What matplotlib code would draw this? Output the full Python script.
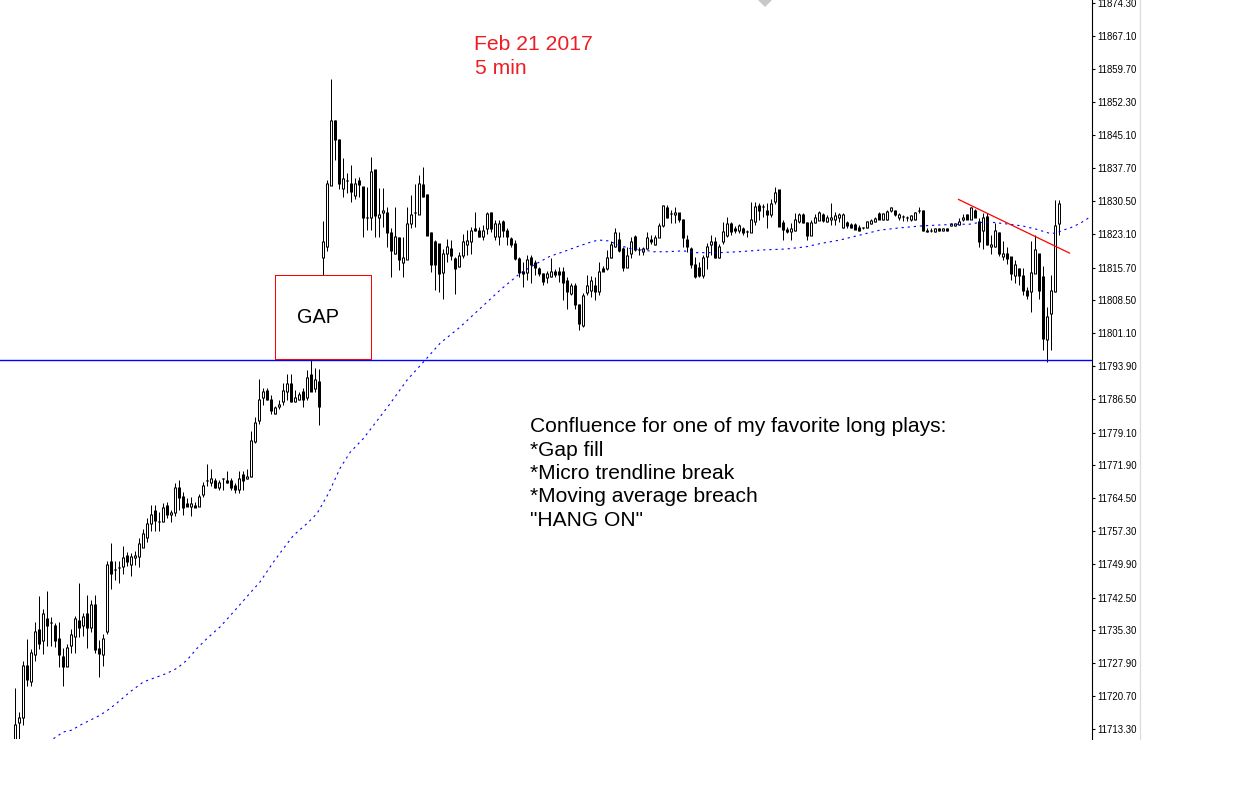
import matplotlib
matplotlib.use("Agg")
import matplotlib.pyplot as plt
from matplotlib.patches import Rectangle
from matplotlib.lines import Line2D
import numpy as np

# ---------------------------------------------------------------
# 5-minute OHLC bars, Feb 21 2017 (index 0 = first visible bar)
# ---------------------------------------------------------------
opens = [
    11709.8, 11714.9, 11715.9, 11727.4, 11723.9, 11729.9, 11735.4, 11733.0, 11737.9, 11737.0,
    11736.4, 11733.4, 11729.5, 11727.3, 11731.8, 11733.8, 11737.4, 11736.2, 11739.0, 11735.8,
    11741.0, 11731.1, 11729.9, 11734.9, 11750.5, 11748.7, 11749.1, 11749.3, 11751.8, 11749.9,
    11751.4, 11751.7, 11753.7, 11755.8, 11758.9, 11761.9, 11759.4, 11759.3, 11763.0, 11760.9,
    11761.4, 11766.9, 11765.0, 11763.4, 11762.8, 11763.0, 11762.8, 11765.4, 11768.5, 11768.0,
    11768.5, 11766.8, 11768.8, 11768.5, 11768.5, 11767.4, 11766.4, 11769.9, 11768.9, 11769.3,
    11777.2, 11781.8, 11786.8, 11788.5, 11786.4, 11783.3, 11784.8, 11785.9, 11788.3, 11790.0,
    11785.9, 11786.4, 11788.1, 11786.9, 11792.0, 11788.9, 11790.5, 11817.9, 11820.3, 11833.9,
    11848.2, 11844.0, 11833.2, 11835.1, 11834.3, 11831.7, 11835.1, 11833.6, 11826.9, 11826.9,
    11837.4, 11826.9, 11827.8, 11828.0, 11823.5, 11818.7, 11822.4, 11816.8, 11817.5, 11825.5,
    11828.0, 11827.5, 11834.2, 11832.0, 11823.5, 11821.4, 11821.0, 11814.7, 11818.8, 11819.9,
    11817.7, 11816.0, 11818.4, 11820.7, 11821.4, 11824.4, 11823.8, 11822.5, 11824.4, 11828.0,
    11822.5, 11822.5, 11826.0, 11824.0, 11822.1, 11821.0, 11817.7, 11814.9, 11814.7, 11817.9,
    11816.8, 11815.5, 11814.4, 11813.5, 11813.8, 11814.9, 11814.9, 11814.9, 11812.9, 11809.9,
    11811.6, 11807.6, 11802.8, 11810.1, 11810.7, 11811.6, 11810.3, 11815.5, 11815.5, 11817.9,
    11820.3, 11821.9, 11819.9, 11815.8, 11818.8, 11822.5, 11819.6, 11819.2, 11819.9, 11821.9,
    11820.7, 11822.4, 11825.1, 11829.0, 11827.7, 11827.5, 11827.9, 11826.4, 11821.9, 11819.9,
    11816.4, 11815.8, 11813.9, 11818.2, 11820.8, 11821.5, 11817.9, 11821.4, 11822.9, 11825.5,
    11824.4, 11823.8, 11824.4, 11823.6, 11823.5, 11825.8, 11829.5, 11829.3, 11828.4, 11827.5,
    11830.3, 11833.0, 11825.6, 11824.1, 11823.6, 11823.8, 11825.8, 11827.5, 11825.7, 11822.9,
    11825.7, 11826.2, 11827.5, 11826.0, 11826.4, 11826.4, 11826.9, 11824.5, 11825.7, 11825.3,
    11825.3, 11824.5, 11824.5, 11824.5, 11825.5, 11825.8, 11827.7, 11826.4, 11826.4, 11828.4,
    11828.4, 11826.9, 11827.1, 11826.9, 11826.4, 11826.4, 11828.4, 11828.4, 11824.0, 11824.0,
    11823.6, 11824.3, 11823.9, 11824.4, 11825.0, 11825.0, 11825.3, 11826.4, 11827.5, 11826.4,
    11828.4, 11826.0, 11823.8, 11827.1, 11820.3, 11820.3, 11823.5, 11818.2, 11818.8, 11818.1,
    11813.9, 11815.5, 11814.0, 11810.5, 11810.3, 11814.4, 11818.8, 11813.6, 11799.8, 11805.5,
    11810.3, 11825.5,
]
highs = [
    11722.5, 11717.1, 11728.4, 11733.4, 11731.0, 11737.0, 11742.9, 11740.0, 11743.9, 11738.2,
    11736.9, 11737.0, 11731.4, 11732.3, 11735.5, 11738.4, 11745.8, 11739.1, 11743.0, 11741.9,
    11743.0, 11733.0, 11734.4, 11750.5, 11754.6, 11750.5, 11750.5, 11753.9, 11752.6, 11752.4,
    11752.9, 11755.7, 11757.8, 11760.2, 11763.0, 11763.0, 11761.4, 11763.4, 11763.8, 11761.9,
    11767.9, 11768.5, 11765.9, 11764.6, 11764.9, 11763.7, 11765.4, 11768.2, 11772.1, 11771.0,
    11769.1, 11768.5, 11769.1, 11770.5, 11769.1, 11768.0, 11770.5, 11770.5, 11771.0, 11779.4,
    11782.6, 11790.9, 11788.9, 11788.9, 11787.5, 11784.9, 11786.4, 11790.0, 11792.0, 11792.0,
    11788.5, 11788.1, 11788.9, 11792.9, 11795.2, 11793.5, 11793.3, 11826.0, 11835.1, 11857.5,
    11848.4, 11844.3, 11839.9, 11836.6, 11838.4, 11835.5, 11835.8, 11833.6, 11833.6, 11840.2,
    11837.4, 11833.4, 11833.4, 11829.2, 11824.4, 11829.2, 11822.5, 11822.5, 11829.2, 11831.7,
    11834.3, 11836.2, 11837.9, 11832.0, 11823.5, 11821.8, 11821.0, 11819.9, 11822.1, 11821.8,
    11818.1, 11819.2, 11823.1, 11824.0, 11824.7, 11828.0, 11824.7, 11825.1, 11828.0, 11828.0,
    11826.2, 11826.2, 11826.2, 11824.4, 11822.5, 11821.8, 11818.1, 11817.0, 11818.4, 11818.4,
    11817.3, 11815.8, 11814.5, 11814.9, 11817.7, 11815.3, 11815.8, 11815.8, 11813.5, 11812.2,
    11812.2, 11807.6, 11810.1, 11814.0, 11813.8, 11813.6, 11817.0, 11816.1, 11819.6, 11821.6,
    11824.4, 11823.6, 11820.3, 11820.3, 11822.5, 11823.0, 11820.3, 11820.3, 11823.5, 11822.9,
    11822.9, 11825.6, 11829.5, 11829.5, 11828.4, 11829.2, 11827.9, 11826.4, 11822.9, 11820.3,
    11818.1, 11817.0, 11818.4, 11821.2, 11822.9, 11822.5, 11821.0, 11825.8, 11826.9, 11825.8,
    11825.0, 11825.3, 11824.7, 11824.1, 11830.3, 11830.3, 11830.0, 11829.8, 11829.9, 11831.0,
    11833.5, 11833.0, 11826.2, 11824.7, 11825.6, 11827.7, 11827.9, 11827.7, 11825.7, 11826.2,
    11827.5, 11828.2, 11827.7, 11827.3, 11829.9, 11828.0, 11827.7, 11827.7, 11826.0, 11825.5,
    11825.5, 11825.1, 11824.7, 11826.0, 11826.4, 11826.8, 11828.0, 11827.9, 11828.4, 11829.2,
    11828.4, 11827.7, 11827.3, 11827.2, 11827.3, 11828.0, 11829.2, 11828.4, 11824.4, 11824.4,
    11824.5, 11824.4, 11824.5, 11824.5, 11825.6, 11825.6, 11826.6, 11827.5, 11827.5, 11829.2,
    11828.6, 11826.6, 11827.9, 11827.9, 11822.9, 11825.5, 11823.6, 11821.5, 11820.3, 11818.1,
    11817.3, 11815.5, 11815.5, 11811.4, 11821.5, 11822.9, 11818.8, 11816.1, 11807.0, 11814.0,
    11830.6, 11830.6,
]
lows = [
    11708.2, 11711.1, 11714.3, 11722.9, 11722.9, 11728.5, 11731.1, 11729.9, 11731.8, 11731.8,
    11731.6, 11727.0, 11722.9, 11727.3, 11730.3, 11730.3, 11733.8, 11733.9, 11731.3, 11734.9,
    11730.3, 11724.9, 11727.3, 11734.4, 11744.4, 11746.4, 11745.8, 11747.8, 11749.5, 11747.3,
    11749.8, 11749.3, 11753.7, 11754.9, 11757.3, 11757.3, 11757.3, 11759.3, 11760.2, 11759.3,
    11760.6, 11761.9, 11760.8, 11762.8, 11760.5, 11762.5, 11762.8, 11764.8, 11767.3, 11767.3,
    11766.8, 11766.3, 11766.3, 11767.8, 11766.3, 11765.8, 11765.7, 11766.3, 11768.9, 11769.3,
    11776.7, 11781.1, 11785.3, 11786.4, 11783.3, 11783.3, 11784.4, 11785.3, 11786.3, 11785.9,
    11785.9, 11786.4, 11784.8, 11786.4, 11788.3, 11788.1, 11780.7, 11814.0, 11819.4, 11833.9,
    11839.5, 11833.2, 11831.4, 11832.3, 11830.3, 11831.0, 11831.4, 11822.5, 11824.0, 11824.0,
    11822.5, 11822.5, 11824.7, 11820.3, 11813.5, 11818.7, 11815.1, 11813.5, 11817.5, 11824.4,
    11824.7, 11827.5, 11831.4, 11822.9, 11814.7, 11810.7, 11810.3, 11808.8, 11817.0, 11817.3,
    11809.9, 11815.8, 11817.9, 11818.4, 11818.8, 11823.8, 11822.5, 11821.8, 11823.1, 11823.6,
    11821.8, 11820.7, 11822.5, 11820.7, 11820.3, 11817.3, 11813.6, 11811.4, 11812.9, 11812.3,
    11814.0, 11813.8, 11811.8, 11812.2, 11813.5, 11813.6, 11812.5, 11808.5, 11806.4, 11809.6,
    11806.4, 11801.8, 11802.5, 11809.6, 11809.2, 11808.5, 11809.6, 11814.9, 11815.1, 11817.9,
    11820.3, 11819.2, 11814.9, 11815.8, 11817.7, 11819.4, 11818.4, 11818.4, 11819.7, 11821.0,
    11820.7, 11822.4, 11824.7, 11826.6, 11825.5, 11825.5, 11825.8, 11820.3, 11819.2, 11815.5,
    11813.4, 11813.6, 11813.4, 11815.3, 11818.4, 11817.9, 11817.9, 11820.9, 11822.4, 11822.9,
    11823.3, 11823.3, 11822.9, 11822.4, 11823.5, 11825.1, 11826.2, 11826.9, 11824.4, 11826.9,
    11829.8, 11824.9, 11821.8, 11823.3, 11821.8, 11823.8, 11825.6, 11825.5, 11821.8, 11822.9,
    11825.5, 11826.2, 11825.8, 11825.8, 11825.1, 11825.1, 11825.8, 11824.4, 11824.5, 11824.5,
    11824.2, 11823.8, 11824.2, 11824.4, 11825.3, 11825.7, 11826.4, 11826.2, 11826.2, 11828.0,
    11827.2, 11826.2, 11826.0, 11826.0, 11826.0, 11826.2, 11827.9, 11823.8, 11823.5, 11823.6,
    11823.5, 11823.9, 11823.8, 11823.8, 11824.9, 11824.9, 11825.1, 11826.0, 11826.4, 11826.4,
    11826.9, 11820.3, 11819.8, 11820.7, 11818.8, 11820.3, 11818.2, 11817.3, 11816.4, 11812.9,
    11812.2, 11811.9, 11809.7, 11808.8, 11805.9, 11814.4, 11808.8, 11797.4, 11794.8, 11797.4,
    11810.3, 11822.9,
]
closes = [
    11714.4, 11715.9, 11727.4, 11724.4, 11730.3, 11735.0, 11732.3, 11739.0, 11736.2, 11737.0,
    11733.0, 11729.9, 11727.3, 11731.4, 11734.3, 11737.9, 11735.8, 11738.4, 11735.8, 11741.0,
    11731.0, 11730.2, 11733.4, 11749.9, 11747.8, 11748.7, 11749.1, 11751.4, 11750.5, 11751.7,
    11751.8, 11754.5, 11756.6, 11758.9, 11761.0, 11759.7, 11759.4, 11762.5, 11761.0, 11761.4,
    11766.9, 11764.8, 11762.5, 11762.8, 11763.4, 11762.5, 11764.9, 11767.4, 11768.5, 11768.9,
    11766.8, 11768.0, 11768.8, 11768.0, 11766.9, 11766.4, 11769.0, 11768.4, 11769.4, 11777.4,
    11781.3, 11786.4, 11788.1, 11786.4, 11783.9, 11784.6, 11785.4, 11788.4, 11790.0, 11785.9,
    11786.9, 11787.5, 11786.4, 11791.3, 11788.3, 11790.9, 11784.8, 11821.4, 11834.3, 11848.4,
    11844.0, 11834.3, 11835.5, 11835.1, 11832.6, 11834.3, 11834.0, 11826.9, 11826.9, 11837.1,
    11827.3, 11827.5, 11828.3, 11823.5, 11819.4, 11822.5, 11817.5, 11817.9, 11825.5, 11827.5,
    11828.0, 11834.3, 11831.4, 11822.9, 11816.4, 11816.4, 11814.4, 11818.8, 11820.3, 11818.4,
    11815.5, 11818.4, 11821.4, 11821.6, 11824.0, 11823.8, 11822.5, 11824.0, 11827.7, 11824.4,
    11825.5, 11825.5, 11824.0, 11822.5, 11820.9, 11817.7, 11814.7, 11814.4, 11817.5, 11816.4,
    11815.8, 11814.4, 11812.7, 11814.4, 11814.9, 11814.2, 11814.2, 11812.3, 11810.3, 11811.6,
    11807.6, 11803.3, 11809.5, 11811.6, 11812.9, 11810.3, 11814.9, 11814.9, 11817.9, 11820.9,
    11823.5, 11819.4, 11815.8, 11818.4, 11821.5, 11819.6, 11819.6, 11819.9, 11822.4, 11821.4,
    11822.4, 11825.1, 11829.5, 11826.9, 11827.7, 11827.9, 11826.4, 11822.4, 11820.3, 11816.4,
    11813.6, 11813.9, 11817.9, 11820.4, 11821.5, 11817.9, 11820.4, 11823.6, 11825.5, 11823.6,
    11823.8, 11825.0, 11823.5, 11823.6, 11826.4, 11829.2, 11828.3, 11829.3, 11827.5, 11829.9,
    11832.3, 11824.9, 11824.1, 11823.6, 11824.4, 11826.4, 11827.5, 11825.7, 11822.9, 11825.7,
    11826.9, 11828.0, 11826.2, 11826.9, 11826.9, 11827.3, 11827.5, 11827.5, 11825.1, 11824.6,
    11824.2, 11824.0, 11824.5, 11825.8, 11826.2, 11826.6, 11826.4, 11827.7, 11828.2, 11828.9,
    11827.5, 11827.5, 11827.1, 11826.9, 11827.2, 11827.9, 11828.4, 11824.0, 11823.6, 11824.0,
    11824.4, 11824.0, 11824.4, 11823.9, 11825.5, 11825.5, 11826.0, 11826.9, 11826.4, 11828.9,
    11826.9, 11821.4, 11826.9, 11820.7, 11820.8, 11823.8, 11818.7, 11818.8, 11817.8, 11814.4,
    11816.4, 11813.9, 11810.7, 11809.4, 11814.7, 11819.6, 11810.7, 11800.0, 11804.9, 11810.5,
    11825.1, 11829.9,
]

# Moving average (dotted blue), sampled along the bar index
ma_index = [
    9.75, 12.25, 14.35, 16.4, 18.9, 21.4, 23.9, 26.4, 28.9, 32.25, 34.75, 38.1, 40.6,
    43.1, 45.6, 48.1, 51.4, 54.75, 58.1, 61.4, 64.75, 67.25, 69.75, 73.1, 75.6, 78.5,
    81.4, 83.9, 87.25, 93.9, 98.1, 102.7, 106.4, 111.4, 116.4, 121.4, 126.4, 129.75,
    131.4, 133.9, 137.25, 140.6, 143.9, 146.0, 148.5, 151.0, 153.9, 157.25, 159.75,
    163.1, 167.1, 170.4, 176.25, 181.25, 187.1, 192.9, 197.9, 201.4, 206.4, 211.4,
    216.4, 221.4, 226.4, 230.6, 235.4, 238.75, 241.25, 244.6, 248.75, 252.1, 255.4,
    258.75, 260.4, 262.1, 263.75, 266.4, 268.9,
]
ma_values = [
    11711.2, 11712.7, 11713.1, 11714.2, 11715.3, 11716.4, 11717.9, 11719.7, 11721.6,
    11723.8, 11724.6, 11725.7, 11726.8, 11728.6, 11731.2, 11733.4, 11736.0, 11739.3,
    11742.7, 11746.0, 11750.4, 11753.4, 11756.3, 11758.9, 11761.1, 11765.6, 11771.2,
    11774.7, 11777.8, 11785.5, 11790.7, 11795.2, 11798.9, 11802.5, 11806.6, 11810.7,
    11814.4, 11816.2, 11817.0, 11818.2, 11819.2, 11820.3, 11821.3, 11821.8, 11821.6,
    11820.7, 11819.9, 11819.6, 11819.2, 11819.2, 11819.4, 11819.0, 11819.0, 11819.2,
    11819.6, 11819.8, 11820.3, 11821.0, 11821.8, 11822.9, 11824.0, 11824.5, 11824.9,
    11825.1, 11825.3, 11825.3, 11825.7, 11825.7, 11825.3, 11824.9, 11824.2, 11823.3,
    11823.3, 11824.0, 11824.4, 11825.5, 11826.9,
]

# Price scale labels
price_ticks = [
    11874.30, 11867.10, 11859.70, 11852.30, 11845.10, 11837.70, 11830.50, 11823.10,
    11815.70, 11808.50, 11801.10, 11793.90, 11786.50, 11779.10, 11771.90, 11764.50,
    11757.30, 11749.90, 11742.50, 11735.30, 11727.90, 11720.70, 11713.30,
]

# Annotations in data coordinates
support_level = 11795.2              # prior high, horizontal line
gap_start, gap_end = 65, 89          # bars spanned by the gap box
gap_low, gap_high = 11795.5, 11814.0
trend_index = [236.0, 263.75]        # micro trendline (red)
trend_values = [11830.8, 11818.9]

RED_TEXT = "#ee1d23"
BLUE = "#0000ff"

W, H = 1260, 788
fig = plt.figure(figsize=(W / 100, H / 100), dpi=100)
fig.patch.set_facecolor("white")

plot_bottom_px = 739
axis_x_px = 1092
bar_px = 4.0            # horizontal spacing of bars in pixels
first_bar_px = 14.5     # centre of bar 0
ax = fig.add_axes([0, 1 - plot_bottom_px / H, axis_x_px / W, plot_bottom_px / H])
ax.set_facecolor("white")
ax.set_xlim(-first_bar_px / bar_px, (axis_x_px - first_bar_px) / bar_px)
y_lo, y_hi = 11711.13, 11875.03
ax.set_ylim(y_lo, y_hi)
ppx = (y_hi - y_lo) / plot_bottom_px   # price units per pixel
PT = 0.72                               # one pixel in points

for side in ("top", "left", "bottom"):
    ax.spines[side].set_visible(False)
ax.spines["right"].set_color("black")
ax.spines["right"].set_linewidth(0.8)
ax.set_xticks([])
ax.yaxis.tick_right()
ax.set_yticks(price_ticks)
ax.set_yticklabels([f"{v:.2f}" for v in price_ticks])
ax.tick_params(axis="y", direction="out", length=2, width=0.8, pad=1.6,
               labelsize=6.9, colors="black")
for lbl in ax.get_yticklabels():
    lbl.set_family("Liberation Sans")

# Candles: 1px wick, 3px body (hollow bodies keep a 1px white core)
o = np.array(opens)
h = np.array(highs)
l = np.array(lows)
c = np.array(closes)
idx = np.arange(len(o))
top = np.maximum(o, c)
bot = np.minimum(o, c)
wicks = ax.vlines(idx, l, h, color="black", linewidth=PT, zorder=2)
wicks.set_capstyle("butt")
bodies = ax.vlines(idx, bot - 0.5 * ppx, top + 0.5 * ppx, color="black",
                   linewidth=3 * PT, zorder=3)
bodies.set_capstyle("butt")
hollow = (c > o) & ((c - o) > 1.5 * ppx)
cores = ax.vlines(idx[hollow], bot[hollow] + 0.5 * ppx, top[hollow] - 0.5 * ppx,
                  color="white", linewidth=PT, zorder=3.5)
cores.set_capstyle("butt")

# Moving average
ax.plot(ma_index, ma_values, color=BLUE, linewidth=0.8,
        linestyle=(0, (2.0, 3.5)), zorder=4)

# Support line and gap box
ax.axhline(support_level, color=BLUE, linewidth=1.0, zorder=5)
ax.add_patch(Rectangle((gap_start, gap_low), gap_end - gap_start, gap_high - gap_low,
                       fill=False, edgecolor="#ff0000", linewidth=PT,
                       antialiased=False, zorder=6))

# Micro trendline
ax.plot(trend_index, trend_values, color="#ff0000", linewidth=0.9, zorder=6)

# Chart-shift marker at the top edge
ax.plot([187.7], [y_hi], marker="D", markersize=7, color="#c8c8c8",
        markeredgewidth=0, clip_on=True, zorder=1)

# Right edge of the price-scale panel
fig.add_artist(Line2D([1139.5 / W, 1139.5 / W], [1 - plot_bottom_px / H, 1],
                      color="#dcdcdc", linewidth=0.9))

# Text
def put(x_px, baseline_px, s, color="black", size=15.1):
    fig.text(x_px / W, 1 - baseline_px / H, s, color=color, fontsize=size,
             family="Liberation Sans", ha="left", va="baseline")

put(474, 50, "Feb 21 2017", RED_TEXT, 15.2)
put(475, 74.3, "5 min", RED_TEXT, 15.2)
put(297, 323.3, "GAP", "black", 14.3)

notes = [
    "Confluence for one of my favorite long plays:",
    "*Gap fill",
    "*Micro trendline break",
    "*Moving average breach",
    "\"HANG ON\"",
]
baselines = [431.7, 455.7, 479.0, 502.3, 525.7]
for s, b in zip(notes, baselines):
    put(530, b, s)

fig.savefig("out.png", dpi=100, facecolor="white")
